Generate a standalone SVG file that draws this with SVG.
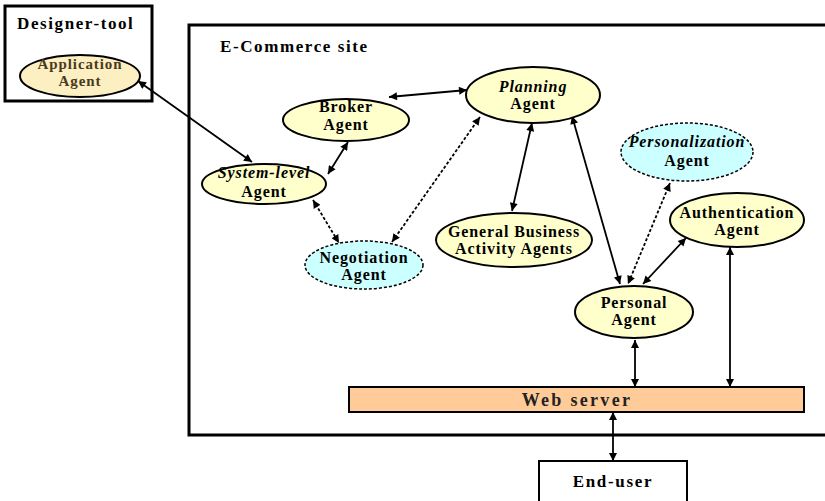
<svg xmlns="http://www.w3.org/2000/svg" width="825" height="501" viewBox="0 0 825 501">
<style>
.box{fill:none;stroke:#000;stroke-width:3}
.agent{fill:#FFFFCC;stroke:#000;stroke-width:2}
.opt{fill:#CCFFFF;stroke:#000;stroke-width:1.5;stroke-dasharray:3 2}
.t{font-family:"Liberation Serif","Times New Roman",serif;font-weight:bold;font-size:16px;letter-spacing:0.9px;text-anchor:middle;fill:#000}
.it{font-style:italic}
.title{font-family:"Liberation Serif","Times New Roman",serif;font-weight:bold;font-size:17px;letter-spacing:1.6px;fill:#000}
.c{fill:none;stroke:#000;stroke-width:1.8;marker-start:url(#ah);marker-end:url(#ah)}
.d{stroke-dasharray:3 2}
</style>
<defs>
<marker id="ah" viewBox="0 0 10 10" refX="10" refY="5" markerWidth="9" markerHeight="8" markerUnits="userSpaceOnUse" orient="auto-start-reverse">
<path d="M0,0 L10,5 L0,10 z" fill="#000"/>
</marker>
</defs>
<rect width="825" height="501" fill="#fff"/>

<g id="designer-tool">
<rect class="box" x="5" y="6" width="147" height="95"/>
<text class="title" x="17" y="29">Designer-tool</text>
</g>
<g id="ecommerce-site">
<path class="box" d="M826 25 H189 V435 H826"/>
<text class="title" x="220" y="52">E-Commerce site</text>
</g>

<g id="connectors">
<line class="c" x1="138" y1="81" x2="252" y2="162"/>
<line class="c" x1="389" y1="97" x2="467" y2="90"/>
<line class="c" x1="348" y1="142" x2="328" y2="174"/>
<line class="c d" x1="313" y1="200" x2="339" y2="243"/>
<line class="c d" x1="392" y1="242" x2="480" y2="117"/>
<line class="c" x1="532" y1="123" x2="512" y2="211"/>
<line class="c" x1="572" y1="116" x2="620" y2="284"/>
<line class="c d" x1="670" y1="183" x2="628" y2="284"/>
<line class="c" x1="686" y1="238" x2="643" y2="284"/>
<line class="c" x1="635" y1="340" x2="635" y2="387"/>
<line class="c" x1="730" y1="247" x2="730" y2="387"/>
<line class="c" x1="613" y1="412" x2="613" y2="461"/>
</g>

<g id="application-agent">
<ellipse cx="80" cy="76" rx="60" ry="21" fill="#FCEFC2" stroke="#000" stroke-width="2"/>
<text class="t" x="80" y="69" style="font-size:15px;fill:#4a3a20">Application</text>
<text class="t" x="80" y="86" style="font-size:15px;fill:#4a3a20">Agent</text>
</g>
<g id="broker-agent">
<ellipse class="agent" cx="346" cy="120" rx="63" ry="21"/>
<text class="t" x="346" y="112">Broker</text>
<text class="t" x="346" y="130">Agent</text>
</g>
<g id="system-level-agent">
<ellipse class="agent" cx="264" cy="184" rx="62" ry="20"/>
<text class="t it" x="264" y="178">System-level</text>
<text class="t" x="264" y="197">Agent</text>
</g>
<g id="planning-agent">
<ellipse class="agent" cx="533" cy="95" rx="67" ry="28"/>
<text class="t it" x="533" y="92">Planning</text>
<text class="t" x="533" y="109">Agent</text>
</g>
<g id="personalization-agent">
<ellipse class="opt" cx="687" cy="152" rx="66" ry="29"/>
<text class="t it" x="687" y="147">Personalization</text>
<text class="t" x="687" y="166">Agent</text>
</g>
<g id="authentication-agent">
<ellipse class="agent" cx="737" cy="220" rx="67" ry="27"/>
<text class="t" x="737" y="218">Authentication</text>
<text class="t" x="737" y="235">Agent</text>
</g>
<g id="general-business-agents">
<ellipse class="agent" cx="514" cy="240" rx="78" ry="27"/>
<text class="t" x="514" y="237">General Business</text>
<text class="t" x="514" y="254">Activity Agents</text>
</g>
<g id="negotiation-agent">
<ellipse class="opt" cx="364" cy="265" rx="59" ry="24"/>
<text class="t" x="364" y="263">Negotiation</text>
<text class="t" x="364" y="280">Agent</text>
</g>
<g id="personal-agent">
<ellipse class="agent" cx="634" cy="312" rx="59" ry="26"/>
<text class="t" x="634" y="308">Personal</text>
<text class="t" x="634" y="325">Agent</text>
</g>
<g id="web-server">
<rect x="349" y="387" width="455" height="25" fill="#FFCC99" stroke="#000" stroke-width="2"/>
<text class="t" x="577" y="406" style="font-size:18px;letter-spacing:2.3px;fill:#222">Web server</text>
</g>
<g id="end-user">
<path d="M539 502 V461 H687 V502" fill="none" stroke="#000" stroke-width="2"/>
<text class="t" x="613" y="487" style="font-size:17px;letter-spacing:1.7px">End-user</text>
</g>
</svg>
